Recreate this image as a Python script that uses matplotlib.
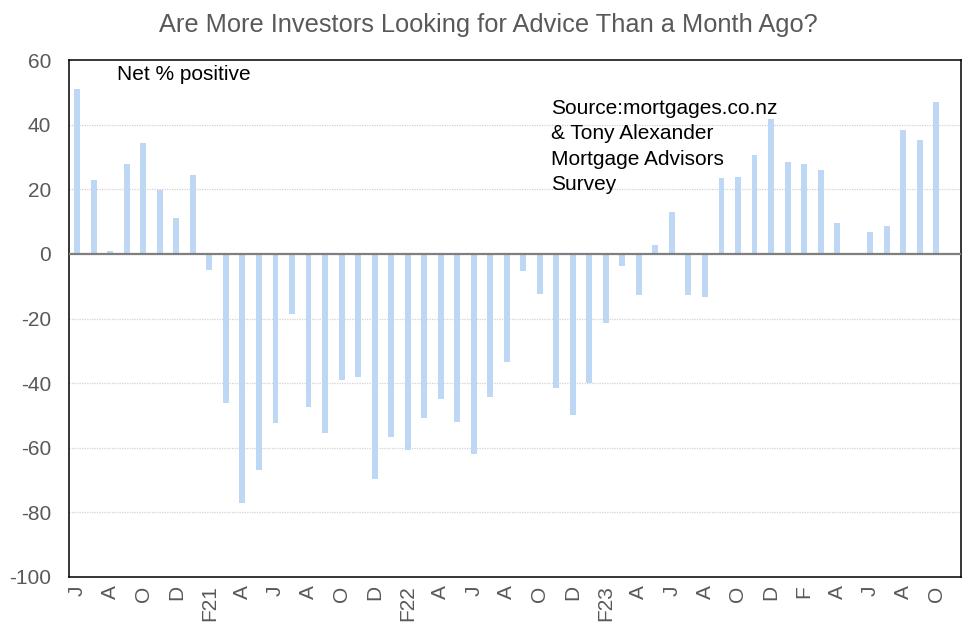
import numpy as np
import matplotlib
matplotlib.use("Agg")
import matplotlib.pyplot as plt

plt.rcParams['font.family'] = ['Liberation Sans', 'DejaVu Sans']
plt.rcParams['axes.unicode_minus'] = False

# Monthly survey, Jun 2020 .. Nov 2024 (May 2024 and Nov 2024 not reported)
values = [51, 23, 1, 27.7, 34.2, 19.9, 11.1, 24.3,
          -5.1, -46.1, -77.2, -66.8, -52.3, -18.5, -47.4, -55.4, -39.1, -38.2, -69.7, -56.6,
          -60.6, -50.8, -44.9, -52, -61.8, -44.3, -33.6, -5.4, -12.4, -41.6, -50, -40,
          -21.3, -3.8, -12.7, 2.7, 13.0, -12.8, -13.3, 23.5, 23.8, 30.5, 41.8, 28.4,
          27.8, 25.9, 9.6, np.nan, 6.7, 8.5, 38.2, 35.2, 47.1, np.nan]
tick_labels = ["J", "A", "O", "D", "F21", "A", "J", "A", "O", "D", "F22", "A", "J", "A",
               "O", "D", "F23", "A", "J", "A", "O", "D", "F", "A", "J", "A", "O"]
title = "Are More Investors Looking for Advice Than a Month Ago?"
note = "Net % positive"
source = "Source:mortgages.co.nz\n& Tony Alexander\nMortgage Advisors\nSurvey"

fig = plt.figure(figsize=(9.76, 6.36), dpi=100)
ax = fig.add_axes([69/976, 59/636, 892/976, 517/636])

x = np.arange(len(values))
ax.bar(x, values, width=0.36, color='#BDD7F4', zorder=2)

ax.set_xlim(-0.5, len(values) - 0.5)
ax.set_ylim(-100, 60)
ax.set_yticks(np.arange(-100, 61, 20))
ax.set_xticks(x[::2][:len(tick_labels)])
ax.set_xticklabels(tick_labels, rotation=90, ha='center', va='top')

ax.tick_params(axis='both', length=0, colors='#595959', labelsize=15)
ax.tick_params(axis='x', pad=6)
ax.tick_params(axis='y', pad=13)

for y in np.arange(-80, 60, 20):
    if y != 0:
        ax.axhline(y, color='#DCCFD0', lw=0.9, ls=(0, (1, 1)), zorder=1)
ax.axhline(0, color='#7F7F7F', lw=1.6, zorder=3)

for s in ax.spines.values():
    s.set_color('black')
    s.set_linewidth(1.1)

fig.text(0.5, 1 - 25/636, title, ha='center', va='center', fontsize=18.3, color='#595959')
fig.text(117/976, 1 - 75/636, note, ha='left', va='center', fontsize=15, color='black')
fig.text(551/976, 1 - 99/636, source, ha='left', va='top', fontsize=15, color='black',
         linespacing=1.42)

fig.savefig("out.png", dpi=100)
